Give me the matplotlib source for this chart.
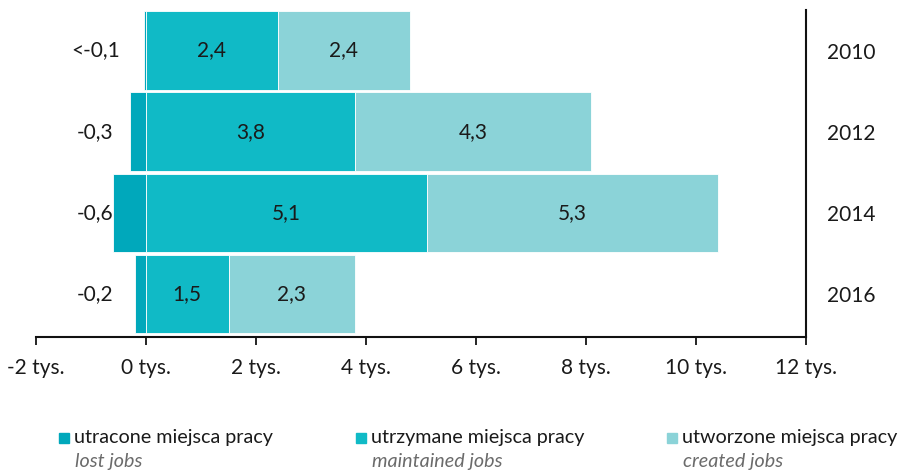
import matplotlib
matplotlib.use("Agg")
import matplotlib.pyplot as plt
from matplotlib.patches import Rectangle

plt.rcParams['font.family'] = ['Lato', 'DejaVu Sans']

years = ["2010", "2012", "2014", "2016"]
lost = [-0.04, -0.3, -0.6, -0.2]
lost_labels = ["<-0,1", "-0,3", "-0,6", "-0,2"]
maintained = [2.4, 3.8, 5.1, 1.5]
created = [2.4, 4.3, 5.3, 2.3]
tick_values = [-2, 0, 2, 4, 6, 8, 10, 12]
tick_labels = ["-2 tys.", "0 tys.", "2 tys.", "4 tys.", "6 tys.", "8 tys.", "10 tys.", "12 tys."]
series_pl = ["utracone miejsca pracy", "utrzymane miejsca pracy", "utworzone miejsca pracy"]
series_en = ["lost jobs", "maintained jobs", "created jobs"]

colors = ["#00a8bb", "#10bac6", "#8bd3d8"]

W, H = 906, 470
fig = plt.figure(figsize=(W / 100, H / 100), dpi=100)
ax = fig.add_axes([36 / W, (H - 337) / H, 770 / W, 327 / H])

ypos = list(range(len(years)))
bh = 0.97
ax.barh(ypos, lost, height=bh, color=colors[0], edgecolor="white", linewidth=0.6)
ax.barh(ypos, maintained, height=bh, color=colors[1], edgecolor="white", linewidth=0.6)
ax.barh(ypos, created, left=maintained, height=bh, color=colors[2], edgecolor="white", linewidth=0.6)

fs = 15
for y, m, c, ll in zip(ypos, maintained, created, lost_labels):
    ax.text(m / 2, y, f"{m:.1f}".replace(".", ","), ha="center", va="center", fontsize=fs, color="#1a1a1a")
    ax.text(m + c / 2, y, f"{c:.1f}".replace(".", ","), ha="center", va="center", fontsize=fs, color="#1a1a1a")
    ax.text(-0.92, y, ll, ha="center", va="center", fontsize=fs, color="#1a1a1a")

ax.set_xlim(-2, 12)
ax.set_ylim(3.5 + 0.03, -0.5)
ax.set_xticks(tick_values)
ax.set_xticklabels(tick_labels, fontsize=fs, color="#1a1a1a")
ax.tick_params(axis="x", direction="out", length=6, width=1.2, pad=9)

ax.yaxis.tick_right()
ax.set_yticks(ypos)
ax.set_yticklabels(years, fontsize=fs, color="#1a1a1a")
ax.tick_params(axis="y", length=0, pad=15)

for s in ["top", "left"]:
    ax.spines[s].set_visible(False)
for s in ["bottom", "right"]:
    ax.spines[s].set_linewidth(1.5)
    ax.spines[s].set_color("#111111")

# legend drawn in figure pixel coordinates
lfs = 14.2
legend_x = [59, 356, 667]
for x0, col, pl, en in zip(legend_x, colors, series_pl, series_en):
    fig.patches.append(Rectangle((x0 / W, (H - 443) / H), 10 / W, 10 / H,
                                 transform=fig.transFigure, color=col))
    fig.text((x0 + 15) / W, (H - 438) / H, pl, ha="left", va="center", fontsize=lfs, color="#1a1a1a")
    fig.text((x0 + 16) / W, (H - 461) / H, en, ha="left", va="center", fontsize=lfs,
             style="italic", color="#6b6b6b")

fig.savefig("out.png", dpi=100)
